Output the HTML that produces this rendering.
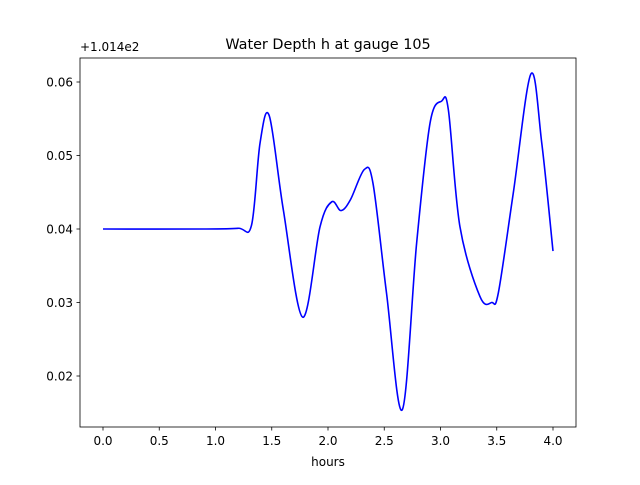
<!DOCTYPE html>
<html><head><meta charset="utf-8"><style>
body{margin:0;background:#fff}
svg text{font-family:"DejaVu Sans","Liberation Sans",sans-serif;fill:#000}
</style></head><body>
<svg id="chart" width="640" height="480" viewBox="0 0 640 480" xmlns="http://www.w3.org/2000/svg">
<rect width="640" height="480" fill="#fff"/>
<text x="328" y="49" font-size="14.4" text-anchor="middle">Water Depth h at gauge 105</text>
<text x="80" y="51" font-size="12">+1.014e2</text>
<g id="ticks"></g>
<path id="line" fill="none" stroke="#0000ff" stroke-width="1.6"/>
<rect x="80" y="58" width="496" height="369" fill="none" stroke="#000" stroke-width="0.8"/>
<text x="328" y="466" font-size="12" text-anchor="middle">hours</text>
</svg>
<script>
const hours=[0,0.9,1.2,1.32,1.396,1.478,1.603,1.775,1.929,2.033,2.116,2.2,2.323,2.40,2.52,2.66,2.788,2.907,3.01,3.07,3.173,3.351,3.455,3.514,3.647,3.804,3.9,4.0];
const depth=[0.0400,0.0400,0.0401,0.0405,0.0517,0.0554,0.0426,0.0280,0.0403,0.0437,0.0425,0.0440,0.0481,0.0462,0.0313,0.0154,0.0381,0.0544,0.0574,0.0562,0.0403,0.0308,0.0300,0.0313,0.0449,0.0611,0.0517,0.0370];
const xTicks=[0,0.5,1,1.5,2,2.5,3,3.5,4];
const xTickLabels=["0.0","0.5","1.0","1.5","2.0","2.5","3.0","3.5","4.0"];
const yTicks=[0.02,0.03,0.04,0.05,0.06];
const yTickLabels=["0.02","0.03","0.04","0.05","0.06"];
const X=v=>103+v*112.5;
const Y=v=>229-(v-0.04)*7350;
const NS="http://www.w3.org/2000/svg";
const g=document.getElementById('ticks');
function mk(tag,attrs){const e=document.createElementNS(NS,tag);for(const k in attrs)e.setAttribute(k,attrs[k]);g.appendChild(e);return e;}
xTicks.forEach((t,i)=>{
 const l=mk('line',{x1:X(t),x2:X(t),y1:427,y2:430.5,stroke:'#000','stroke-width':0.8});
 
 
 const tx=mk('text',{x:X(t),y:445,'font-size':12,'text-anchor':'middle'});tx.textContent=xTickLabels[i];
 
 
});
yTicks.forEach((t,i)=>{
 const l=mk('line',{x1:76.5,x2:80,y1:Y(t),y2:Y(t),stroke:'#000','stroke-width':0.8});
 
 
 const tx=mk('text',{x:73,y:Y(t)+4.5,'font-size':12,'text-anchor':'end'});tx.textContent=yTickLabels[i];
 
 
});
const P=hours.map((h,i)=>[X(h),Y(depth[i])]);
let d='M'+P[0][0]+','+P[0][1];
for(let i=0;i<P.length-1;i++){
 const p0=P[Math.max(i-1,0)],p1=P[i],p2=P[i+1],p3=P[Math.min(i+2,P.length-1)];
 const c1=[p1[0]+(p2[0]-p0[0])/6,p1[1]+(p2[1]-p0[1])/6];
 const c2=[p2[0]-(p3[0]-p1[0])/6,p2[1]-(p3[1]-p1[1])/6];
 d+=` C${c1[0]},${c1[1]} ${c2[0]},${c2[1]} ${p2[0]},${p2[1]}`;
}
document.getElementById('line').setAttribute('d',d);
</script>
</body></html>
